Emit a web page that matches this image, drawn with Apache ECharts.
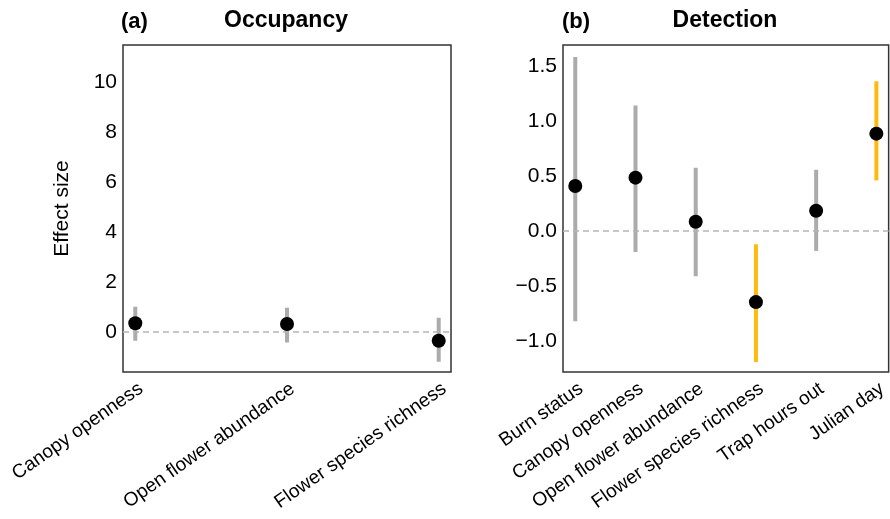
<!DOCTYPE html>
<html lang="en">
<head>
<meta charset="UTF-8">
<title>Occupancy and detection</title>
<script src="https://cdn.jsdelivr.net/npm/echarts@6/dist/echarts.min.js"></script>
<style>html,body{margin:0;padding:0;background:#fff;}</style>
</head>
<body>
<div id="main" style="width:890px;height:519px;"></div>
<script>
// (a) occupancy covariates
var occNames = ['Canopy openness', 'Open flower abundance', 'Flower species richness'];
var occMean = [0.34, 0.31, -0.36];
var occLow = [-0.36, -0.43, -1.2];
var occHigh = [1.0, 0.96, 0.56];
var occTicks = [0, 2, 4, 6, 8, 10];

// (b) detection covariates
var detNames = ['Burn status', 'Canopy openness', 'Open flower abundance',
                'Flower species richness', 'Trap hours out', 'Julian day'];
var detMean = [0.41, 0.485, 0.085, -0.645, 0.185, 0.885];
var detLow = [-0.82, -0.19, -0.41, -1.19, -0.18, 0.46];
var detHigh = [1.58, 1.14, 0.575, -0.12, 0.557, 1.36];
var detSig = [false, false, false, true, false, true];
var detTicks = [-1, -0.5, 0, 0.5, 1, 1.5];

var FONT = '"Liberation Sans", Arial, sans-serif';
var GREY = '#ababab';
var GOLD = '#ffb90f';

function idx(n) { var a = []; for (var i = 0; i < n; i++) a.push(i); return a; }

function ranges(low, high, sig) {
    return low.map(function (v, i) { return [i, v, high[i], sig && sig[i] ? 1 : 0]; });
}
function points(mean) {
    return mean.map(function (v, i) { return [i, v]; });
}

// vertical interval line for one covariate
function barItem(params, api) {
    var a = api.coord([api.value(0), api.value(2)]);
    var b = api.coord([api.value(0), api.value(1)]);
    return {
        type: 'line',
        shape: {x1: a[0], y1: a[1], x2: b[0], y2: b[1]},
        style: {stroke: api.value(3) ? GOLD : GREY, lineWidth: 4}
    };
}

function xAxisFor(gi, names, pad) {
    return {
        type: 'value', gridIndex: gi,
        min: -pad, max: names.length - 1 + pad,
        axisLine: {show: false}, axisTick: {show: false}, splitLine: {show: false},
        axisLabel: {
            customValues: idx(names.length),
            formatter: function (v) { return names[Math.round(v)]; },
            rotate: 35, margin: 19, padding: [0, -7, 0, 0],
            fontSize: 19.2, color: '#000', fontFamily: FONT
        }
    };
}

function yAxisFor(gi, min, max, ticks, digits, name) {
    return {
        type: 'value', gridIndex: gi, min: min, max: max,
        name: name, nameLocation: 'middle', nameGap: 50,
        nameTextStyle: {fontSize: 21, color: '#000', fontFamily: FONT},
        axisLine: {show: false}, axisTick: {show: false}, splitLine: {show: false},
        axisLabel: {
            customValues: ticks, margin: 6,
            formatter: function (v) { return (v < 0 ? '\u2212' : '') + Math.abs(v).toFixed(digits); },
            fontSize: 21, color: '#000', fontFamily: FONT
        }
    };
}

function zeroLine(gi) {
    return {
        type: 'line', xAxisIndex: gi, yAxisIndex: gi, data: [], z: 1, silent: true,
        markLine: {
            silent: true, symbol: 'none', label: {show: false},
            lineStyle: {color: '#b5b5b5', type: [6, 4], width: 1.5},
            data: [{yAxis: 0}]
        }
    };
}

var chart = echarts.init(document.getElementById('main'), null, {renderer: 'canvas'});
chart.setOption({
    backgroundColor: '#fff',
    animation: false,
    grid: [
        {left: 123, top: 45, width: 328, height: 327, show: true, borderColor: '#333', borderWidth: 1.5},
        {left: 563, top: 45, width: 328, height: 327, show: true, borderColor: '#333', borderWidth: 1.5}
    ],
    xAxis: [xAxisFor(0, occNames, 0.081), xAxisFor(1, detNames, 0.204)],
    yAxis: [yAxisFor(0, -1.61, 11.47, occTicks, 0, 'Effect size'),
            yAxisFor(1, -1.28, 1.69, detTicks, 1, '')],
    graphic: [
        {type: 'text', x: 121, y: 11, style: {text: '(a)', font: 'bold 22px ' + FONT, fill: '#000'}},
        {type: 'text', x: 286, y: 9, style: {text: 'Occupancy', font: 'bold 23px ' + FONT, fill: '#000', textAlign: 'center'}},
        {type: 'text', x: 562, y: 11, style: {text: '(b)', font: 'bold 22px ' + FONT, fill: '#000'}},
        {type: 'text', x: 725, y: 9, style: {text: 'Detection', font: 'bold 23px ' + FONT, fill: '#000', textAlign: 'center'}}
    ],
    series: [
        zeroLine(0),
        {type: 'custom', xAxisIndex: 0, yAxisIndex: 0, z: 2, renderItem: barItem,
         encode: {x: 0, y: [1, 2]}, data: ranges(occLow, occHigh)},
        {type: 'scatter', xAxisIndex: 0, yAxisIndex: 0, z: 3, symbolSize: 14,
         itemStyle: {color: '#000', opacity: 1}, data: points(occMean)},
        zeroLine(1),
        {type: 'custom', xAxisIndex: 1, yAxisIndex: 1, z: 2, renderItem: barItem,
         encode: {x: 0, y: [1, 2]}, data: ranges(detLow, detHigh, detSig)},
        {type: 'scatter', xAxisIndex: 1, yAxisIndex: 1, z: 3, symbolSize: 14,
         itemStyle: {color: '#000', opacity: 1}, data: points(detMean)}
    ]
});
</script>
</body>
</html>
